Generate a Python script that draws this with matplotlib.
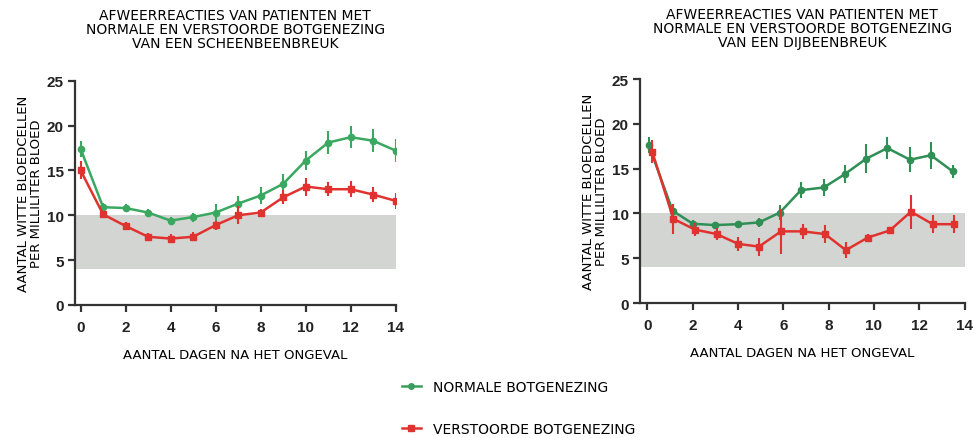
import numpy as np
import matplotlib.pyplot as plt
from matplotlib.lines import Line2D

# linker grafiek: scheenbeenbreuk
dagen_l = np.arange(0, 15)
normaal_l = [17.4, 10.9, 10.8, 10.3, 9.4, 9.8, 10.3, 11.3, 12.2, 13.5, 16.1, 18.1, 18.7, 18.3, 17.2]
normaal_l_err = [0.9, 0.5, 0.4, 0.4, 0.4, 0.5, 0.9, 0.9, 1.0, 1.1, 1.1, 1.3, 1.2, 1.3, 1.3]
verstoord_l = [15.0, 10.1, 8.8, 7.6, 7.4, 7.6, 8.9, 10.0, 10.3, 12.0, 13.2, 12.9, 12.9, 12.3, 11.6]
verstoord_l_err = [1.0, 0.4, 0.4, 0.4, 0.5, 0.5, 0.5, 1.0, 0.4, 0.8, 1.0, 0.8, 0.9, 0.8, 0.9]

# rechter grafiek: dijbeenbreuk
dagen_r_n = [0.07, 1.12, 2.01, 2.99, 3.99, 4.93, 5.85, 6.78, 7.79, 8.72, 9.65, 10.59, 11.59, 12.51, 13.47]
normaal_r = [17.6, 10.3, 8.85, 8.7, 8.8, 9.0, 10.1, 12.6, 12.9, 14.4, 16.1, 17.3, 16.0, 16.5, 14.7]
normaal_r_err = [0.9, 0.7, 0.4, 0.4, 0.4, 0.5, 0.8, 0.9, 0.9, 1.0, 1.6, 1.2, 1.4, 1.5, 0.7]
dagen_r_v = [0.22, 1.15, 2.10, 3.06, 4.01, 4.93, 5.90, 6.85, 7.84, 8.76, 9.72, 10.70, 11.63, 12.59, 13.54]
verstoord_r = [16.9, 9.4, 8.2, 7.7, 6.6, 6.3, 8.0, 8.0, 7.7, 5.9, 7.3, 8.1, 10.2, 8.8, 8.8]
verstoord_r_err = [1.3, 1.7, 0.7, 0.7, 0.8, 1.0, 2.5, 0.8, 1.0, 0.9, 0.4, 0.3, 1.9, 1.0, 1.0]

normaal_band = (4, 10)
titels = ['AFWEERREACTIES VAN PATIENTEN MET\nNORMALE EN VERSTOORDE BOTGENEZING\nVAN EEN SCHEENBEENBREUK',
          'AFWEERREACTIES VAN PATIENTEN MET\nNORMALE EN VERSTOORDE BOTGENEZING\nVAN EEN DIJBEENBREUK']

groen = '#3a9d5d'
rood = '#e0332f'
spine_kleur = '#333333'
tekst = dict(family='DejaVu Sans', fontsize=9.5)

fig = plt.figure(figsize=(9.75, 4.39), dpi=100)
ax1 = fig.add_axes([0.0769, 0.303, 0.329, 0.511])
ax2 = fig.add_axes([0.6564, 0.3075, 0.333, 0.510])

data = [(ax1, dagen_l, normaal_l, normaal_l_err, dagen_l, verstoord_l, verstoord_l_err, -0.25, '#3aa860'),
        (ax2, dagen_r_n, normaal_r, normaal_r_err, dagen_r_v, verstoord_r, verstoord_r_err, -0.32, '#2f8f55')]

for i, (ax, xn, yn, en, xv, yv, ev, xmin, gk) in enumerate(data):
    ax.axhspan(normaal_band[0], normaal_band[1], xmin=0, xmax=1, color='#d3d5d3', lw=0, zorder=0)
    ax.errorbar(xn, yn, yerr=en, color=gk, marker='o', ms=4.5, lw=1.8, elinewidth=1.5, capsize=0, zorder=3)
    ax.errorbar(xv, yv, yerr=ev, color=rood, marker='s', ms=4.5, lw=1.8, elinewidth=1.5, capsize=0, zorder=4)
    ax.set_xlim(xmin, 14)
    ax.set_ylim(0, 25)
    ax.set_xticks(range(0, 15, 2))
    ax.set_yticks(range(0, 26, 5))
    for s in ['top', 'right']:
        ax.spines[s].set_visible(False)
    for s in ['left', 'bottom']:
        ax.spines[s].set_color(spine_kleur)
        ax.spines[s].set_linewidth(1.6)
    ax.tick_params(colors=spine_kleur, width=1.6, length=5, pad=3)
    ax.tick_params(axis='x', pad=6)
    for lab in ax.get_xticklabels() + ax.get_yticklabels():
        lab.set_fontfamily('Liberation Sans')
        lab.set_fontweight('bold')
        lab.set_fontsize(11)
        lab.set_color('#222222')
    ax.set_title(titels[i], pad=24, linespacing=1.0, family='DejaVu Sans', fontsize=10)
    ax.set_xlabel('AANTAL DAGEN NA HET ONGEVAL', labelpad=10, **tekst)
    ax.set_ylabel('AANTAL WITTE BLOEDCELLEN\nPER MILLILITER BLOED', labelpad=3, linespacing=1.0, **tekst)

handles = [Line2D([], [], color=groen, marker='o', ms=4, lw=1.8),
           Line2D([], [], color=rood, marker='s', ms=4, lw=1.8)]
fig.legend(handles, ['NORMALE BOTGENEZING', 'VERSTOORDE BOTGENEZING'], loc='center left',
           bbox_to_anchor=(0.399, 0.068), frameon=False, handlelength=1.4, labelspacing=2.0,
           handletextpad=0.9, prop=dict(family='DejaVu Sans', size=10))

fig.savefig('out.png', dpi=100)
